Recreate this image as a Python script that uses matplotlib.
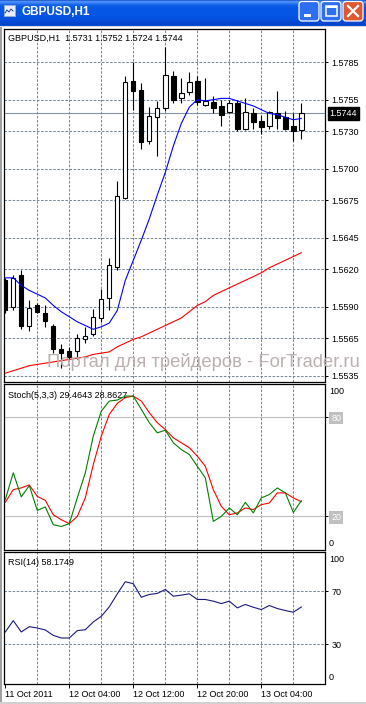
import numpy as np
import matplotlib
matplotlib.use('Agg')
import matplotlib.pyplot as plt
from matplotlib import transforms
from matplotlib.patches import FancyBboxPatch, Rectangle

plt.rcParams['font.family'] = ['Liberation Sans', 'DejaVu Sans']

# ------------------------------
# GBPUSD H1 bars
# ------------------------------
opens = np.array([1.5611, 1.5590, 1.5615, 1.5575, 1.5591, 1.5585, 1.5575, 1.5556, 1.5555, 1.5555,
                  1.5564, 1.5568, 1.5581, 1.5597, 1.5622, 1.5677, 1.5770, 1.5763, 1.5722, 1.5741,
                  1.5748, 1.5774, 1.5756, 1.5761, 1.5770, 1.5751, 1.5753, 1.5750, 1.5745, 1.5752,
                  1.5732, 1.5744, 1.5738, 1.5734, 1.5744, 1.5741, 1.5734, 1.5731])
highs = np.array([1.5613, 1.5615, 1.5619, 1.5595, 1.5593, 1.5591, 1.5576, 1.5560, 1.5558, 1.5568,
                  1.5574, 1.5588, 1.5604, 1.5629, 1.5690, 1.5774, 1.5785, 1.5768, 1.5749, 1.5754,
                  1.5797, 1.5778, 1.5772, 1.5777, 1.5774, 1.5772, 1.5758, 1.5755, 1.5755, 1.5755,
                  1.5756, 1.5748, 1.5743, 1.5746, 1.5762, 1.5746, 1.5744, 1.5752])
lows = np.array([1.5585, 1.5587, 1.5572, 1.5571, 1.5585, 1.5574, 1.5553, 1.5541, 1.5548, 1.5548,
                 1.5561, 1.5567, 1.5578, 1.5587, 1.5619, 1.5676, 1.5747, 1.5716, 1.5720, 1.5710,
                 1.5746, 1.5752, 1.5752, 1.5759, 1.5751, 1.5750, 1.5744, 1.5734, 1.5744, 1.5730,
                 1.5731, 1.5732, 1.5728, 1.5732, 1.5732, 1.5731, 1.5722, 1.5724])
closes = np.array([1.5587, 1.5613, 1.5575, 1.5589, 1.5586, 1.5579, 1.5556, 1.5553, 1.5550, 1.5565,
                   1.5567, 1.5582, 1.5596, 1.5623, 1.5678, 1.5769, 1.5762, 1.5721, 1.5742, 1.5748,
                   1.5775, 1.5755, 1.5760, 1.5769, 1.5753, 1.5754, 1.5748, 1.5743, 1.5752, 1.5732,
                   1.5745, 1.5737, 1.5733, 1.5745, 1.5740, 1.5732, 1.5730, 1.5744])

# скользящие средние
ma_fast = [1.5613, 1.5613, 1.5607, 1.5603, 1.5600, 1.5597, 1.5591, 1.5586, 1.5582, 1.5578,
           1.5575, 1.5572, 1.5574, 1.5577, 1.5587, 1.5611, 1.5627, 1.5643, 1.5660, 1.5679,
           1.5697, 1.5718, 1.5736, 1.5749, 1.5755, 1.5754, 1.5755, 1.5756, 1.5756, 1.5754,
           1.5752, 1.5750, 1.5747, 1.5744, 1.5743, 1.5741, 1.5739, 1.5740]
ma_slow = [1.5537, 1.5539, 1.5541, 1.5543, 1.5544, 1.5545, 1.5546, 1.5547, 1.5548, 1.5549,
           1.5550, 1.5552, 1.5553, 1.5554, 1.5558, 1.5561, 1.5564, 1.5566, 1.5569, 1.5572,
           1.5575, 1.5578, 1.5581, 1.5586, 1.5591, 1.5594, 1.5599, 1.5602, 1.5605, 1.5608,
           1.5611, 1.5614, 1.5617, 1.5621, 1.5624, 1.5627, 1.5630, 1.5633]

# Stochastic(5,3,3)
stoch_main = [30.1, 46.3, 31.8, 38.6, 23.6, 25.7, 15.0, 13.9, 15.6, 31.2,
              46.3, 68.5, 83.6, 89.7, 90.3, 92.7, 92.7, 84.7, 76.6, 70.5,
              72.1, 64.5, 60.4, 57.4, 50.3, 43.3, 17.0, 20.0, 25.1, 21.0,
              28.5, 22.1, 31.2, 33.2, 37.2, 34.2, 22.4, 29.4643]
stoch_signal = [28.5, 36.2, 37.2, 39.0, 32.1, 29.7, 21.0, 18.0, 15.6, 20.0,
                31.2, 51.3, 68.5, 81.6, 88.3, 91.8, 92.7, 89.7, 82.7, 76.6,
                72.5, 67.5, 64.5, 61.5, 56.4, 50.3, 36.2, 26.1, 21.0, 22.1,
                25.1, 24.1, 27.1, 28.1, 34.2, 34.2, 31.2, 28.8627]

# RSI(14)
rsi = [39.2, 47.8, 39.2, 43.2, 42.2, 40.7, 36.6, 34.6, 34.6, 40.2,
       40.9, 46.8, 51.1, 58.3, 68.2, 77.4, 75.9, 65.6, 67.7, 68.5,
       71.5, 66.4, 67.2, 68.2, 63.9, 63.9, 62.6, 60.8, 62.6, 57.5,
       60.1, 58.0, 56.2, 59.3, 57.0, 55.5, 54.2, 58.1749]

price_ticks = [1.5535, 1.5565, 1.5590, 1.5620, 1.5645, 1.5675, 1.5700, 1.5730, 1.5755, 1.5785]
time_pos = [0, 8, 16, 24, 32]
time_labels = ['11 Oct 2011', '12 Oct 04:00', '12 Oct 12:00', '12 Oct 20:00', '13 Oct 04:00']

# ------------------------------
# Оформление окна
# ------------------------------
W, H = 366, 704


def box(x0, y0, x1, y1):
    return [x0 / W, 1 - y1 / H, (x1 - x0) / W, (y1 - y0) / H]


fig = plt.figure(figsize=(W / 100, H / 100), dpi=100)
fig.patch.set_facecolor('white')

grid_c = '#778899'
dash = (0, (2.4, 1.5))
bars = np.arange(len(opens))
fs = 6.5


def frame(ax):
    ax.set_xlim(-0.16, 39.96)
    for s in ax.spines.values():
        s.set_color('black')
        s.set_linewidth(0.9)
    ax.yaxis.tick_right()
    ax.tick_params(axis='y', direction='out', length=2.5, width=0.7, pad=2,
                   labelsize=fs, colors='black')
    ax.set_xticks([])
    for g in range(4, 38, 4):
        ax.axvline(g, color=grid_c, lw=0.75, ls=dash, zorder=0)


# -------------------------------------------------
# 1. Свечной график
# -------------------------------------------------
ax1 = fig.add_axes(box(4, 29, 325, 382))
frame(ax1)
ax1.set_ylim(1.55300, 1.58113)
ax1.set_yticks(price_ticks)
ax1.set_yticklabels([f'{p:.4f}' for p in price_ticks])
for p in price_ticks:
    ax1.axhline(p, color=grid_c, lw=0.75, ls=dash, zorder=0)
ax1.axhline(closes[-1], color='#8494a4', lw=0.8, zorder=1)

up = closes >= opens
ax1.vlines(bars, lows, highs, color='black', lw=0.8, zorder=2)
ax1.bar(bars, np.maximum(np.abs(closes - opens), 0.00002), bottom=np.minimum(opens, closes),
        width=0.55, color=np.where(up, 'white', 'black'), edgecolor='black', lw=0.8, zorder=3)
ax1.plot(bars, ma_fast, color='#0000ff', lw=0.8, zorder=4)
ax1.plot(bars, ma_slow, color='#ff0000', lw=0.8, zorder=4)

ax1.text(0.0134, 0.987,
         f'GBPUSD,H1  {opens[-1]:.4f} {highs[-1]:.4f} {lows[-1]:.4f} {closes[-1]:.4f}',
         transform=ax1.transAxes, va='top', ha='left', fontsize=fs)
tr1 = transforms.blended_transform_factory(ax1.transAxes, ax1.transData)
ax1.text(1.015, closes[-1], f'{closes[-1]:.4f}', transform=tr1, va='center', ha='left',
         fontsize=fs, color='white', zorder=6,
         bbox=dict(boxstyle='square,pad=0.2', fc='black', ec='black'))

fig.text(47 / W, 1 - 362 / H, 'Портал для трейдеров - ForTrader.ru', fontsize=13.2,
         color='#bcb0b0', va='center', ha='left', zorder=5)

# -------------------------------------------------
# 2. Стохастик
# -------------------------------------------------
ax2 = fig.add_axes(box(4, 384, 325, 549.5))
frame(ax2)
ax2.set_ylim(0, 100)
ax2.axhline(80, color='#c0c0c0', lw=0.8, zorder=0)
ax2.axhline(20, color='#c0c0c0', lw=0.8, zorder=0)
ax2.set_yticks([20, 80])
ax2.set_yticklabels(['20', '80'])
for lbl in ax2.get_yticklabels():
    lbl.set_color('white')
    lbl.set_bbox(dict(boxstyle='square,pad=0.2', fc='#c0c0c0', ec='none'))
ax2.plot(bars, stoch_signal, color='#ff0000', lw=0.8, zorder=3)
ax2.plot(bars, stoch_main, color='#008000', lw=0.8, zorder=4)
ax2.text(0.0134, 1 - 7.0 / 165.5, f'Stoch(5,3,3) {stoch_main[-1]:.4f} {stoch_signal[-1]:.4f}',
         transform=ax2.transAxes, va='top', ha='left', fontsize=fs)
ax2.text(1.012, 1 - 7.7 / 165.5, '100', transform=ax2.transAxes, va='center', ha='left', fontsize=fs)
ax2.text(1.012, 6.2 / 165.5, '0', transform=ax2.transAxes, va='center', ha='left', fontsize=fs)

# -------------------------------------------------
# 3. RSI
# -------------------------------------------------
ax3 = fig.add_axes(box(4, 552, 325, 683.5))
frame(ax3)
ax3.set_ylim(0, 100)
ax3.set_yticks([30, 70])
for lv in (30, 70):
    ax3.axhline(lv, color=grid_c, lw=0.75, ls=dash, zorder=0)
ax3.plot(bars, rsi, color='#1a1a80', lw=0.8, zorder=3)
ax3.text(0.0134, 1 - 6.0 / 131.5, f'RSI(14) {rsi[-1]:.4f}', transform=ax3.transAxes,
         va='top', ha='left', fontsize=fs)
ax3.text(1.012, 1 - 8.0 / 131.5, '100', transform=ax3.transAxes, va='center', ha='left', fontsize=fs)
ax3.text(1.012, 6.5 / 131.5, '0', transform=ax3.transAxes, va='center', ha='left', fontsize=fs)
ax3.set_xticks(time_pos)
ax3.set_xticklabels(time_labels, ha='left')
ax3.tick_params(axis='x', direction='out', length=3, width=0.7, pad=2, labelsize=fs)

# -------------------------------------------------
# 4. Заголовок окна
# -------------------------------------------------
ax0 = fig.add_axes(box(0, 0, 366, 27))
ax0.set_xlim(0, 366)
ax0.set_ylim(27, 0)
ax0.axis('off')
rows = ['#2a62d8', '#4a90f8', '#3f88f6', '#2f78f0', '#1c68ea', '#1060e8', '#0a5ce6',
        '#0858e6', '#0756e5', '#0656e5', '#0656e5', '#0656e5', '#0656e5', '#0656e5',
        '#0655e4', '#0654e3', '#0653e2', '#0652e0', '#0650de', '#064edb', '#064cd8',
        '#0649d4', '#0647d0', '#0645cc', '#0643c8', '#0a4fd8', '#d8d8d8']
grad = np.array([[matplotlib.colors.to_rgb(c)] for c in rows])
ax0.imshow(grad, extent=(0, 366, 27, 0), aspect='auto', interpolation='nearest')

for x0, fc in ((299, '#2d6ef2'), (321, '#2d6ef2'), (343, '#e0582f')):
    ax0.add_patch(FancyBboxPatch((x0, 1.5), 20, 19.5, boxstyle='round,pad=0,rounding_size=3',
                                 fc=fc, ec='white', lw=0.9))
ax0.add_patch(Rectangle((304, 14), 7, 2.5, fc='white', ec='none'))
ax0.add_patch(Rectangle((325.5, 5.5), 11, 10.5, fc='none', ec='white', lw=1.1))
ax0.add_patch(Rectangle((325.5, 5.5), 11, 2, fc='white', ec='none'))
ax0.plot([348, 358], [6, 16], color='white', lw=1.6)
ax0.plot([348, 358], [16, 6], color='white', lw=1.6)

ax0.add_patch(Rectangle((3.5, 5), 11, 11, fc='#e8eef8', ec='#9ab0d0', lw=0.6))
ax0.plot([5, 7, 9, 11, 13], [13, 10, 12, 9, 11], color='#2040a0', lw=0.7)
ax0.text(22, 12, 'GBPUSD,H1', color='white', fontsize=8.5, fontweight='bold',
         va='center', ha='left')

# рамка окна
fig.add_artist(Rectangle((0, 0), 2 / W, 1 - 27 / H, transform=fig.transFigure,
                         fc='#a0a0a0', ec='none'))
fig.add_artist(Rectangle((0, 0), 1, 2 / H, transform=fig.transFigure,
                         fc='#d0d0d0', ec='none'))

fig.savefig('out.png', dpi=100)
